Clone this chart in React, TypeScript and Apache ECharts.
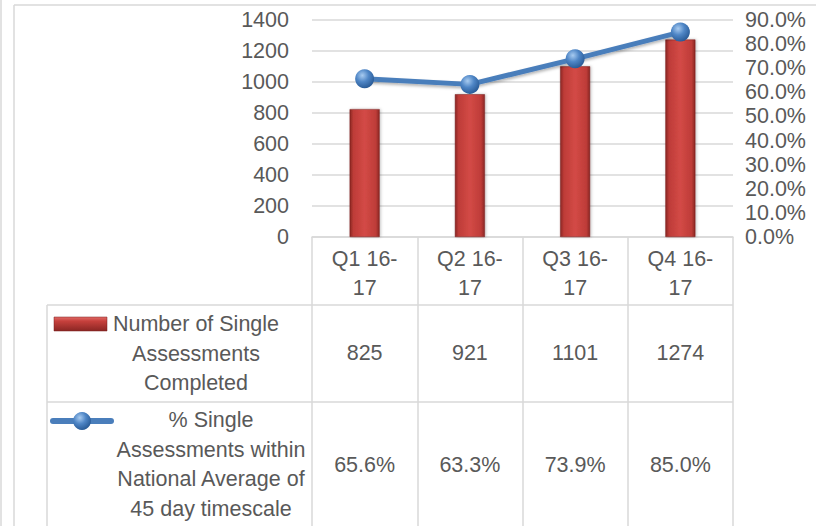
import React, { useEffect, useRef } from "react";
import * as echarts from "echarts";

const categories = ["Q1 16-17", "Q2 16-17", "Q3 16-17", "Q4 16-17"];
const completed = [825, 921, 1101, 1274];
const withinPct = [65.6, 63.3, 73.9, 85.0];
const seriesNames = [
  "Number of Single Assessments Completed",
  "% Single Assessments within National Average of 45 day timescale",
];
const seriesLabelLines = [
  ["Number of Single", "Assessments", "Completed"],
  ["% Single", "Assessments within", "National Average of", "45 day timescale"],
];

const FONT = '"Liberation Sans", Arial, sans-serif';
const TXT = "#595959";
const GRID_C = "#D9D9D9";
const FS = 21.5;

export default function App() {
  const ref = useRef<HTMLDivElement>(null);
  useEffect(() => {
    if (!ref.current) return;
    const chart = echarts.init(ref.current, undefined, { renderer: "svg" });
    const barGrad = new echarts.graphic.LinearGradient(0, 0, 1, 0, [
      { offset: 0, color: "#8A2623" },
      { offset: 0.12, color: "#BE3C38" },
      { offset: 0.5, color: "#D34A46" },
      { offset: 0.88, color: "#BE3C38" },
      { offset: 1, color: "#8A2623" },
    ]);
    const sphere = new echarts.graphic.RadialGradient(0.38, 0.32, 0.75, [
      { offset: 0, color: "#A8CBF0" },
      { offset: 0.45, color: "#4F86C6" },
      { offset: 1, color: "#23548F" },
    ]);
    const iconGrad = new echarts.graphic.LinearGradient(0, 0, 0, 1, [
      { offset: 0, color: "#E06A66" },
      { offset: 0.3, color: "#C6403C" },
      { offset: 1, color: "#8A2623" },
    ]);
    const textStyle = (text: string, x: number, y: number) => ({
      type: "text",
      style: {
        text,
        x,
        y,
        align: "center",
        verticalAlign: "middle",
        fontSize: FS,
        fontFamily: FONT,
        lineHeight: 29.5,
        fill: TXT,
      },
    });
    const line = (x1: number, y1: number, x2: number, y2: number) => ({
      type: "line",
      shape: { x1, y1, x2, y2 },
      style: { stroke: GRID_C, lineWidth: 1.5 },
    });
    chart.setOption({
      animation: false,
      backgroundColor: "#fff",
      textStyle: { fontFamily: FONT },
      grid: { left: 312, top: 20, width: 421, height: 217 },
      xAxis: [
        {
          type: "category",
          data: categories,
          axisLine: { lineStyle: { color: GRID_C, width: 1.5 } },
          axisTick: { show: true, length: 289, lineStyle: { color: GRID_C, width: 1.5 } },
          axisLabel: {
            color: TXT,
            fontSize: FS,
            lineHeight: 29.5,
            margin: 7,
            formatter: (v: string) => v.replace("-", "-\n"),
          },
        },
        {
          type: "category",
          position: "bottom",
          offset: 116,
          data: completed.map(String),
          axisLine: { show: false },
          axisTick: { show: false },
          axisLabel: { color: TXT, fontSize: FS, margin: 0, verticalAlign: "middle" },
        },
        {
          type: "category",
          position: "bottom",
          offset: 228,
          data: withinPct.map((v) => v.toFixed(1) + "%"),
          axisLine: { show: false },
          axisTick: { show: false },
          axisLabel: { color: TXT, fontSize: FS, margin: 0, verticalAlign: "middle" },
        },
      ],
      yAxis: [
        {
          type: "value",
          min: 0,
          max: 1400,
          interval: 200,
          axisLine: { show: false },
          axisTick: { show: false },
          splitLine: { lineStyle: { color: GRID_C, width: 1.5 } },
          axisLabel: {
            color: TXT,
            fontSize: FS,
            margin: 23,
            formatter: (v: number) => String(v),
          },
        },
        {
          type: "value",
          min: 0,
          max: 90,
          interval: 10,
          position: "right",
          axisLine: { show: false },
          axisTick: { show: false },
          splitLine: { show: false },
          axisLabel: {
            color: TXT,
            fontSize: FS,
            margin: 12,
            formatter: (v: number) => v.toFixed(1) + "%",
          },
        },
      ],
      series: [
        {
          name: seriesNames[0],
          type: "bar",
          data: completed,
          barWidth: 30,
          itemStyle: {
            color: barGrad,
            borderColor: "#7A1F1C",
            borderWidth: 0.5,
            shadowColor: "rgba(0,0,0,0.25)",
            shadowBlur: 3,
            shadowOffsetX: 1,
          },
          z: 2,
        },
        {
          name: seriesNames[1],
          type: "line",
          yAxisIndex: 1,
          data: withinPct,
          symbol: "circle",
          symbolSize: 19,
          lineStyle: {
            color: "#4A7EBB",
            width: 5,
            shadowColor: "rgba(0,0,0,0.3)",
            shadowBlur: 3,
            shadowOffsetY: 2,
          },
          itemStyle: { color: sphere, borderWidth: 0 },
          z: 3,
        },
      ],
      graphic: [
        line(14, 5, 816, 5),
        line(14, 5, 14, 526),
        line(1, 0, 1, 526),
        line(47, 305, 733, 305),
        line(47, 402, 733, 402),
        line(47, 305, 47, 526),
        {
          type: "rect",
          shape: { x: 54, y: 317, width: 53, height: 14 },
          style: { fill: iconGrad, stroke: "#7A1F1C", lineWidth: 0.5 },
        },
        {
          type: "line",
          shape: { x1: 53, y1: 421, x2: 111, y2: 421 },
          style: { stroke: "#4A7EBB", lineWidth: 6, lineCap: "round" },
        },
        {
          type: "circle",
          shape: { cx: 82, cy: 421, r: 9 },
          style: { fill: sphere },
        },
        textStyle(seriesLabelLines[0].join("\n"), 196, 353.5),
        textStyle(seriesLabelLines[1].join("\n"), 211, 464.5),
      ],
    });
    return () => chart.dispose();
  }, []);
  return (
    <div
      ref={ref}
      style={{ position: "absolute", left: 0, top: 0, width: 816, height: 526 }}
    />
  );
}
